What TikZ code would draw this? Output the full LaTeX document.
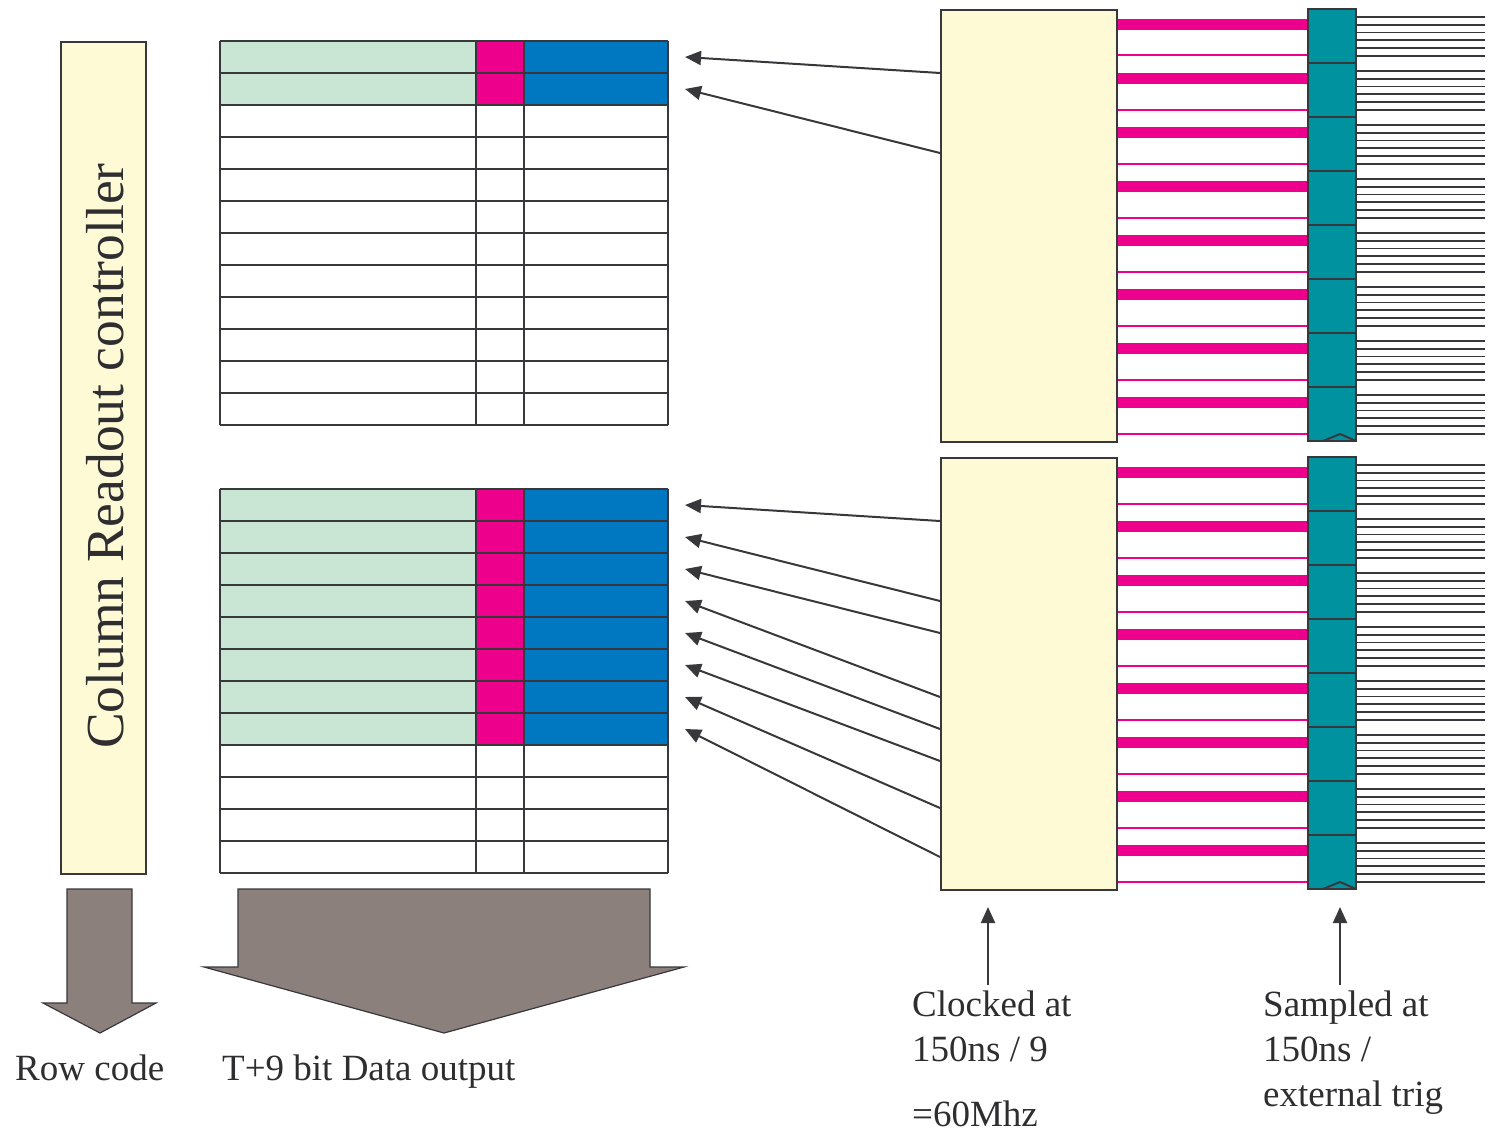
\documentclass[tikz,border=0pt]{standalone}
\usepackage{fontspec}
\setmainfont{Liberation Serif}
\usetikzlibrary{arrows.meta}
\definecolor{cream}{HTML}{FFFAD6}
\definecolor{mint}{HTML}{C9E6D4}
\definecolor{mag}{HTML}{EC008C}
\definecolor{blu}{HTML}{0078C1}
\definecolor{teal2}{HTML}{00929E}
\definecolor{agrey}{HTML}{8C807C}
\definecolor{edge}{HTML}{38383C}
\definecolor{txtc}{HTML}{2E2E30}
\tikzset{
  boxc/.style={draw=edge, fill=cream, line width=2pt, inner sep=0pt, anchor=north west},
  grid/.style={draw=edge, line width=2pt},
  conn/.style={draw=edge, line width=2pt, -{Triangle[length=16pt,width=14pt]}},
  fat/.style={fill=agrey, draw=edge, line width=1.2pt, line join=miter},
  txt/.style={text=txtc, anchor=base west, inner sep=0pt, font=\fontsize{37}{45}\selectfont},
}
\begin{document}
\begin{tikzpicture}[x=1pt,y=-1pt]
\useasboundingbox (0,0) rectangle (1490,1132);

% controller
\node[boxc, minimum width=85pt, minimum height=832pt] (ctrl) at (60,41) {};
\node[text=txtc, rotate=90, anchor=base, inner sep=0pt, font=\fontsize{53.5}{60}\selectfont] (ctrltxt) at (123,456) {Column Readout controller};

% tables
\foreach \t/\n in {41/2, 489/8}{
  \fill[mint] (220,\t) rectangle (476,\t+32*\n);
  \fill[mag] (476,\t) rectangle (524,\t+32*\n);
  \fill[blu] (524,\t) rectangle (668,\t+32*\n);
  \foreach \r in {0,...,12} \draw[grid] (220,\t+32*\r) -- (668,\t+32*\r);
  \foreach \c in {220,476,524,668} \draw[grid] (\c,\t) -- (\c,\t+384);
}

% output arrows
\filldraw[fat] (67,889) -- (132,889) -- (132,1003) -- (156,1003) -- (100,1033) -- (43,1003) -- (67,1003) -- cycle;
\filldraw[fat] (238,889) -- (650,889) -- (650,967) -- (684,967) -- (444,1033) -- (204,967) -- (238,967) -- cycle;

% right side blocks
\foreach \o/\nm in {0/A, 448/B}{
  \foreach \i in {0,...,7}{
    \draw[mag, line width=11pt] (1116,24.5+\o+54*\i) -- (1308,24.5+\o+54*\i);
    \draw[mag, line width=2pt] (1116,55.5+\o+54*\i) -- (1308,55.5+\o+54*\i);
    \foreach \j in {0,...,5}
      \draw[edge, line width=1.7pt] (1356,17+\o+54*\i+7.75*\j) -- (1485,17+\o+54*\i+7.75*\j);
    \filldraw[fill=teal2, draw=edge, line width=2pt] (1308,9+\o+54*\i) rectangle (1356,63+\o+54*\i);
  }
  \draw[edge, line width=2pt] (1323,441+\o) -- (1340,434+\o) -- (1356,441+\o);
  \node[boxc, minimum width=176pt, minimum height=432pt] (clk\nm) at (940,9+\o) {};
}

% connectors
\foreach \s/\e [count=\k] in {73/57, 153/89}{
  \coordinate (sA\k) at (940,\s); \coordinate (tA\k) at (685,\e);
  \draw[conn] (sA\k) -- (tA\k);
}
\foreach \s/\e [count=\k] in {521/505, 601/537, 633/569, 697/601, 729/633, 761/665, 808/697, 857/729}{
  \coordinate (sB\k) at (940,\s); \coordinate (tB\k) at (685,\e);
  \draw[conn] (sB\k) -- (tB\k);
}
\coordinate (clkin) at (988,985); \coordinate (clktip) at (988,907);
\draw[conn] (clkin) -- (clktip);
\coordinate (smpin) at (1340,985); \coordinate (smptip) at (1340,907);
\draw[conn] (smpin) -- (smptip);

% labels
\node[txt] (lrow) at (15,1080) {Row code};
\node[txt] (ldata) at (222,1080) {T+9 bit Data output};
\node[txt] (lclk1) at (912,1016) {Clocked at};
\node[txt] (lclk2) at (912,1061) {150ns / 9};
\node[txt] (lclk3) at (912,1126) {=60Mhz};
\node[txt] (lsmp1) at (1263,1016) {Sampled at};
\node[txt] (lsmp2) at (1263,1061) {150ns /};
\node[txt] (lsmp3) at (1263,1106) {external trig};
\end{tikzpicture}
\end{document}
